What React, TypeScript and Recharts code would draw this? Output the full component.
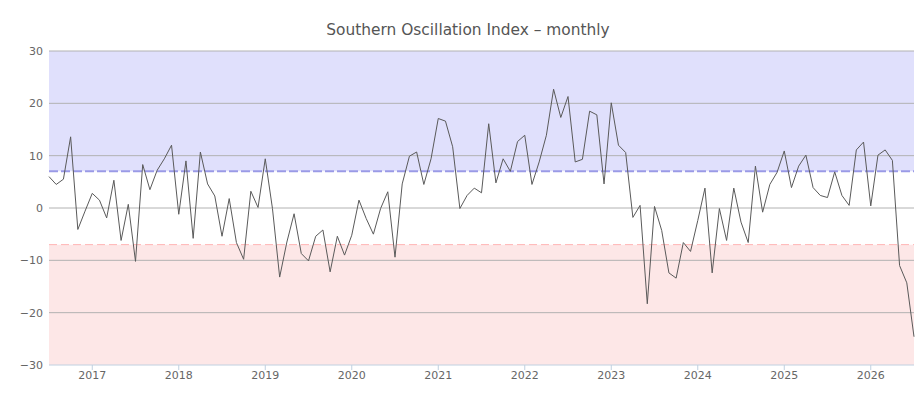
import { LineChart, Line, XAxis, YAxis, ReferenceArea, ReferenceLine } from "recharts"

// monthly values, Jul 2016 .. Jul 2026
const soi = [
  6.0, 4.5, 5.5, 13.6, -4.1, -0.6,
  2.8, 1.5, -1.9, 5.3, -6.2, 0.7, -10.2, 8.3, 3.5, 7.2, 9.4, 12.0,
  -1.2, 9.0, -5.8, 10.7, 4.6, 2.3, -5.4, 1.8, -6.6, -9.8, 3.2, 0.1,
  9.4, -0.1, -13.2, -6.5, -1.1, -8.7, -10.1, -5.4, -4.2, -12.2, -5.4, -9.0,
  -5.2, 1.5, -2.0, -5.0, -0.1, 3.1, -9.4, 4.6, 9.9, 10.7, 4.5, 9.4,
  17.1, 16.6, 11.7, -0.1, 2.4, 3.8, 2.9, 16.1, 4.8, 9.4, 7.0, 12.7,
  13.9, 4.5, 8.8, 13.9, 22.7, 17.3, 21.3, 8.8, 9.3, 18.5, 17.8, 4.6,
  20.1, 12.0, 10.6, -1.8, 0.5, -18.3, 0.3, -4.3, -12.4, -13.4, -6.6, -8.3,
  -2.4, 3.8, -12.4, -0.1, -6.2, 3.8, -2.7, -6.6, 8.0, -0.8, 4.5, 6.8,
  10.9, 3.9, 8.0, 10.1, 3.9, 2.4, 2.0, 6.9, 2.4, 0.5, 11.1, 12.6,
  0.4, 10.1, 11.1, 9.1, -11.0, -14.3, -24.6,
]

const years = [2017, 2018, 2019, 2020, 2021, 2022, 2023, 2024, 2025, 2026]
const yTicks = [-30, -20, -10, 0, 10, 20, 30]
const upperLimit = 7
const lowerLimit = -7

const data = soi.map((v, i) => ({ m: i, soi: v }))
const yearTicks = years.map((_, i) => 6 + i * 12)

const font = "'DejaVu Sans', Verdana, sans-serif"

export default function App() {
  return (
    <div style={{ position: "absolute", left: 0, top: 0, width: 922, height: 403, background: "#fff" }}>
      <div
        style={{
          position: "absolute",
          top: 21,
          left: 0,
          width: 936,
          textAlign: "center",
          fontFamily: font,
          fontSize: 15.4,
          color: "#555",
        }}
      >
        Southern Oscillation Index – monthly
      </div>
      <LineChart width={922} height={403} data={data} margin={{ top: 51, right: 8, bottom: 0, left: 9 }}>
        <XAxis
          dataKey="m"
          type="number"
          domain={[0, 120]}
          ticks={yearTicks}
          tickFormatter={(v) => String(years[(v - 6) / 12])}
          stroke="#c0d0e0"
          tickSize={5}
          tickMargin={1}
          height={38}
          tick={{ fill: "#666", fontSize: 11, fontFamily: font }}
        />
        <YAxis
          type="number"
          domain={[-30, 30]}
          ticks={yTicks}
          width={40}
          axisLine={false}
          tickLine={false}
          tickMargin={0}
          tickFormatter={(v) => (v < 0 ? "\u2212" + Math.abs(v) : String(v))}
          tick={{ fill: "#666", fontSize: 11, fontFamily: font }}
        />
        <ReferenceArea y1={upperLimit} y2={30} fill="#e0e0fc" fillOpacity={1} stroke="none" />
        <ReferenceArea y1={-30} y2={lowerLimit} fill="#fde7e7" fillOpacity={1} stroke="none" />
        {yTicks.slice(1).map((t) => (
          <ReferenceLine key={t} y={t} stroke="#b2b2b2" strokeWidth={1} />
        ))}
        <ReferenceLine y={upperLimit} stroke="#9a9ae6" strokeWidth={2} strokeDasharray="9 3" />
        <ReferenceLine y={lowerLimit} stroke="#ffb3b3" strokeWidth={1} strokeDasharray="8 4" />
        <Line
          type="linear"
          dataKey="soi"
          stroke="#5a5a5a"
          strokeWidth={1}
          dot={false}
          isAnimationActive={false}
        />
      </LineChart>
    </div>
  )
}
